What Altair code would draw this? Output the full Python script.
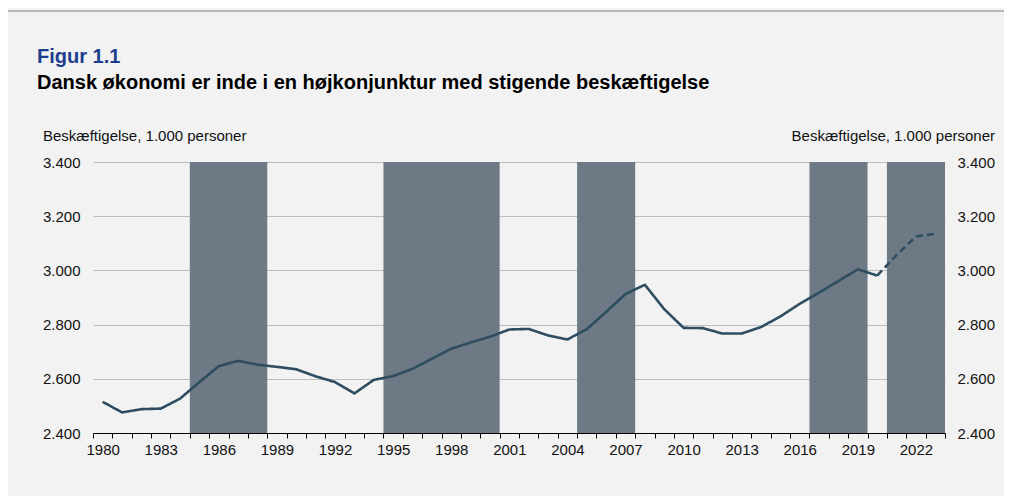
import altair as alt
import pandas as pd

years = list(range(1980, 2024))
employment = [2515, 2476, 2488, 2490, 2527, 2588, 2647, 2666, 2652, 2644,
              2635, 2609, 2588, 2546, 2596, 2610, 2637, 2674, 2711, 2734,
              2755, 2782, 2784, 2760, 2745, 2783, 2847, 2913, 2947, 2857,
              2788, 2787, 2767, 2767, 2791, 2830, 2877, 2918, 2961, 3004,
              2981, 3057, 3125, 3135]
last_actual = 2020

boom_start = [1985, 1995, 2005, 2017, 2021]
boom_end = [1988, 2000, 2007, 2019, 2023]

y_ticks = [2400, 2600, 2800, 3000, 3200, 3400]
label_every = 3

FONT = "Liberation Sans"
LINE_COLOR = "#2e4d60"
SHADE_COLOR = "#6d7a86"
BG = "#f2f2f2"
AX_TITLE = "Beskæftigelse, 1.000 personer"

rows = []
for yr, v in zip(years, employment):
    if yr <= last_actual:
        rows.append({"year": yr, "value": v, "serie": "Faktisk"})
    if yr >= last_actual:
        rows.append({"year": yr, "value": v, "serie": "Prognose"})
line_df = pd.DataFrame(rows)
band_df = pd.DataFrame({"start": boom_start, "end": boom_end})

tick_values = [y - 0.5 for y in years] + [years[-1] + 0.5]
x_domain = [years[0] - 0.5, years[-1] + 0.5]
W, H = 852, 271
band_px = W / len(years)

x_axis = alt.Axis(
    values=tick_values,
    labelExpr=f"((datum.value + 0.5 - {years[0]}) % {label_every} == 0) ? toString(datum.value + 0.5) : ''",
    labelOffset=band_px / 2,
    labelOverlap=False,
    labelFlush=False,
    labelBound=False,
    tickSize=5,
    tickColor="#000000",
    tickWidth=1,
    domainColor="#000000",
    domainWidth=1.2,
    labelFontSize=15,
    labelFont=FONT,
    labelColor="#111111",
    labelPadding=4,
    grid=False,
    title=None,
    zindex=1,
)
x_scale = alt.Scale(domain=x_domain, nice=False, zero=False)
y_scale = alt.Scale(domain=[y_ticks[0], y_ticks[-1]], nice=False, zero=False)

fmt = "replace(format(datum.value, ','), ',', '.')"

rects = alt.Chart(band_df).transform_calculate(
    x0="datum.start - 0.5", x1="datum.end + 0.5"
).mark_rect(color=SHADE_COLOR).encode(
    x=alt.X("x0:Q", scale=x_scale, axis=x_axis),
    x2="x1:Q",
    y=alt.YDatum(
        y_ticks[-1], type="quantitative", scale=y_scale,
        axis=alt.Axis(
            orient="left", values=y_ticks, labelExpr=fmt, grid=True,
            gridColor="#bdbdbd", gridWidth=1.2, domain=False, ticks=False,
            labelFontSize=15, labelFont=FONT, labelColor="#111111", labelPadding=13,
            title=AX_TITLE, titleAngle=0, titleAlign="left", titleBaseline="alphabetic",
            titleX=-50.5, titleY=-22, titleFont=FONT, titleFontSize=15,
            titleFontWeight="normal", titleColor="#111111",
        ),
    ),
    y2=alt.Y2Datum(y_ticks[0]),
)

line = alt.Chart(line_df).mark_line(color=LINE_COLOR, strokeWidth=2.6).encode(
    x=alt.X("year:Q", scale=x_scale, axis=x_axis),
    y=alt.Y(
        "value:Q", scale=y_scale,
        axis=alt.Axis(
            orient="right", values=y_ticks, labelExpr=fmt, grid=False,
            domain=False, ticks=False,
            labelFontSize=15, labelFont=FONT, labelColor="#111111", labelPadding=12,
            title=AX_TITLE, titleAngle=0, titleAlign="right", titleBaseline="alphabetic",
            titleX=49.5, titleY=-22, titleFont=FONT, titleFontSize=15,
            titleFontWeight="normal", titleColor="#111111",
        ),
    ),
    strokeDash=alt.StrokeDash(
        "serie:N",
        scale=alt.Scale(domain=["Faktisk", "Prognose"], range=[[1, 0], [7, 4]]),
        legend=None,
    ),
)

top_rule = alt.Chart(pd.DataFrame({"a": [0]})).mark_rule(
    color="#a6a6a6", strokeWidth=1.5
).encode(x=alt.value(-88), x2=alt.value(W + 70), y=alt.value(-151))

chart = alt.layer(rects, line, top_rule).resolve_scale(y="independent").properties(
    width=W,
    height=H,
    autosize=alt.AutoSizeParams(type="none"),
    padding={"left": 85, "top": 154, "right": 59, "bottom": 63},
    background=BG,
    title=alt.TitleParams(
        text="Figur 1.1",
        subtitle="Dansk økonomi er inde i en højkonjunktur med stigende beskæftigelse",
        anchor="start",
        frame="group",
        dx=-56,
        offset=-83,
        font=FONT,
        fontSize=20,
        fontWeight="bold",
        color="#1d3d8f",
        subtitleFont=FONT,
        subtitleFontSize=20,
        subtitleFontWeight="bold",
        subtitleColor="#000000",
        subtitlePadding=6,
    ),
).configure_view(stroke=None)

chart.save("out.html", embed_options={"renderer": "svg", "actions": False})
